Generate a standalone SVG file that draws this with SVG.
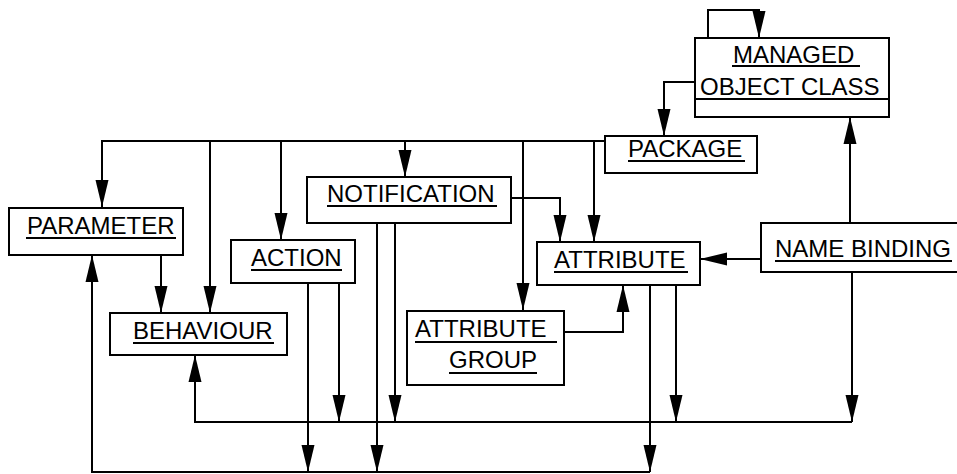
<svg xmlns="http://www.w3.org/2000/svg" width="957" height="474" viewBox="0 0 957 474">
  <style>
    .box { fill: #ffffff; stroke: #000000; stroke-width: 2; }
    .lbl { font-family: "Liberation Sans", Arial, sans-serif; font-size: 24px; fill: #000000; }
    .ul { stroke: #000000; stroke-width: 2.2; }
    .wire { fill: none; stroke: #000000; stroke-width: 2; }
    .arr { marker-end: url(#head); }
  </style>
  <defs>
    <marker id="head" markerUnits="userSpaceOnUse" markerWidth="28" markerHeight="16" viewBox="0 0 28 16" refX="27" refY="8" orient="auto">
      <path d="M0,1.5 L27,8 L0,14.5 Z" fill="#000000"/>
    </marker>
  </defs>

  <rect width="957" height="474" fill="#ffffff"/>

  <!-- connectors -->
  <g id="connectors">
    <!-- self relation of managed object class -->
    <path class="wire arr" d="M708,38 V10 H759 V38"/>
    <!-- managed object class to package -->
    <path class="wire arr" d="M694,82 H664 V136"/>
    <!-- package bus and its drops -->
    <path class="wire arr" d="M605,141 H102 V207"/>
    <path class="wire arr" d="M210,141 V313"/>
    <path class="wire arr" d="M281,141 V240"/>
    <path class="wire arr" d="M405,141 V177"/>
    <path class="wire arr" d="M523,141 V310"/>
    <path class="wire arr" d="M594,141 V242"/>
    <!-- notification to attribute -->
    <path class="wire arr" d="M508,198 H560 V242"/>
    <!-- attribute group to attribute -->
    <path class="wire arr" d="M564,332 H623 V285"/>
    <!-- name binding relations -->
    <path class="wire arr" d="M761,259 H700"/>
    <path class="wire arr" d="M850,223 V117"/>
    <path class="wire arr" d="M852,272 V422"/>
    <!-- behaviour bus -->
    <path class="wire arr" d="M852,422 H195 V355"/>
    <path class="wire arr" d="M676,285 V422"/>
    <path class="wire arr" d="M339,283 V422"/>
    <path class="wire arr" d="M395,223 V422"/>
    <!-- parameter bus -->
    <path class="wire arr" d="M650,472 H92 V255"/>
    <path class="wire arr" d="M650,285 V472"/>
    <path class="wire arr" d="M308,283 V472"/>
    <path class="wire arr" d="M377,223 V472"/>
    <!-- parameter to behaviour -->
    <path class="wire arr" d="M161,255 V313"/>
  </g>

  <g id="managed-object-class">
    <rect class="box" x="695" y="38" width="194" height="79"/>
    <text class="lbl" x="733" y="63">MANAGED</text>
    <line class="ul" x1="732" y1="66" x2="860" y2="66"/>
    <text class="lbl" x="700" y="95">OBJECT CLASS</text>
    <line class="ul" x1="696" y1="99" x2="888" y2="99"/>
  </g>

  <g id="package">
    <rect class="box" x="605" y="136" width="152" height="37"/>
    <text class="lbl" x="628" y="157">PACKAGE</text>
    <line class="ul" x1="628" y1="161" x2="745" y2="161"/>
  </g>

  <g id="parameter">
    <rect class="box" x="9" y="208" width="174" height="47"/>
    <text class="lbl" x="27" y="234">PARAMETER</text>
    <line class="ul" x1="26" y1="238" x2="176" y2="238"/>
  </g>

  <g id="behaviour">
    <rect class="box" x="110" y="313" width="177" height="42"/>
    <text class="lbl" x="133" y="339">BEHAVIOUR</text>
    <line class="ul" x1="133" y1="343" x2="274" y2="343"/>
  </g>

  <g id="action">
    <rect class="box" x="231" y="240" width="124" height="43"/>
    <text class="lbl" x="251" y="266">ACTION</text>
    <line class="ul" x1="251" y1="270" x2="342" y2="270"/>
  </g>

  <g id="notification">
    <rect class="box" x="307" y="177" width="204" height="46"/>
    <text class="lbl" x="327" y="202">NOTIFICATION</text>
    <line class="ul" x1="327" y1="206" x2="497" y2="206"/>
  </g>

  <g id="attribute">
    <rect class="box" x="537" y="242" width="163" height="43"/>
    <text class="lbl" x="554" y="268">ATTRIBUTE</text>
    <line class="ul" x1="554" y1="272" x2="688" y2="272"/>
  </g>

  <g id="attribute-group">
    <rect class="box" x="407" y="311" width="157" height="74"/>
    <text class="lbl" x="415" y="337">ATTRIBUTE</text>
    <line class="ul" x1="415" y1="342" x2="557" y2="342"/>
    <text class="lbl" x="449" y="368">GROUP</text>
    <line class="ul" x1="449" y1="373" x2="537" y2="373"/>
  </g>

  <g id="name-binding">
    <rect class="box" x="761" y="223" width="198" height="49"/>
    <text class="lbl" x="775" y="257">NAME BINDING</text>
    <line class="ul" x1="775" y1="261" x2="952" y2="261"/>
  </g>
</svg>
